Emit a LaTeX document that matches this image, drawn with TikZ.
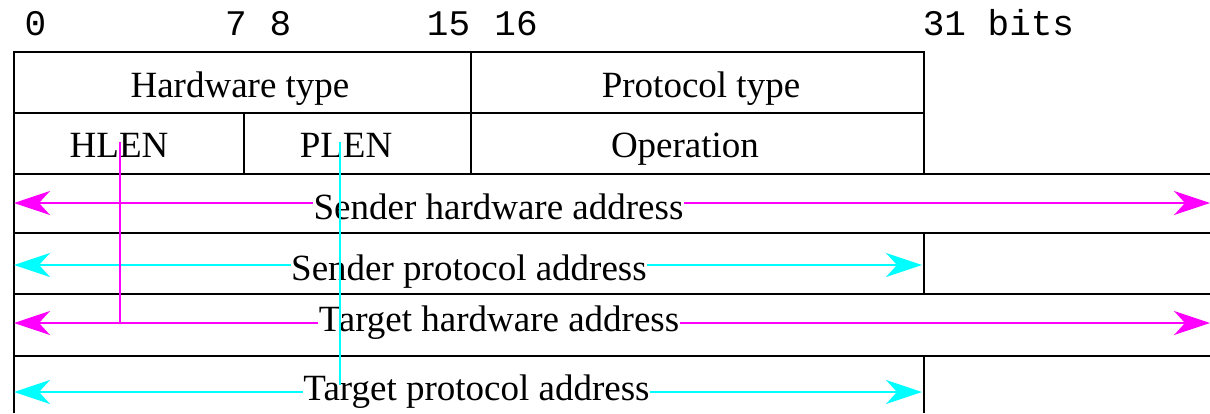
\documentclass[tikz,border=0pt]{standalone}
\usepackage{fontspec}
\setmainfont{Liberation Serif}
\setmonofont{Liberation Mono}
\usetikzlibrary{arrows.meta}
\definecolor{hwcol}{RGB}{255,0,255}
\definecolor{pacol}{RGB}{0,255,255}
\begin{document}
\begin{tikzpicture}[x=0.5pt,y=-0.5pt,
		field/.style={font=\fontsize{18.5}{22}\selectfont,inner sep=0pt,anchor=base},
		bitno/.style={font=\ttfamily\fontsize{18}{22}\selectfont,inner sep=0pt,anchor=base},
		grid/.style={line width=0.8pt},
		hwline/.style={draw=hwcol,line width=0.7pt},
		paline/.style={draw=pacol,line width=0.7pt},
		addrarrow/.style={-{Stealth[length=18pt,width=12pt,inset=5.5pt]}}]
		\useasboundingbox (0,0) rectangle (1210,413);
	
		\node[bitno] (b0) at (35.5,35) {0};
		\node[bitno] (b7) at (236,35) {7};
		\node[bitno] (b8) at (280.5,35) {8};
		\node[bitno] (b15) at (448.5,35) {15};
		\node[bitno] (b16) at (516,35) {16};
		\node[bitno] (b31) at (998.5,35) {31 bits};
		
		\draw[grid] (14,413) -- (14,52) -- (924,52) -- (924,174);
		\draw[grid] (14,113) -- (924,113);
		\draw[grid] (14,174) -- (1210,174);
		\draw[grid] (14,233) -- (1210,233);
		\draw[grid] (14,294) -- (1210,294);
		\draw[grid] (14,356) -- (1210,356);
		\draw[grid] (471,52) -- (471,174);
		\draw[grid] (244,113) -- (244,174);
		\draw[grid] (924,233) -- (924,294);
		\draw[grid] (924,356) -- (924,413);
		
		\node[field] (hwtype) at (240,97.5) {Hardware type};
		\node[field] (prtype) at (701,97.5) {Protocol type};
		\node[field] (hlen) at (119,157) {HLEN};
		\node[field] (plen) at (346,157) {PLEN};
		\node[field] (oper) at (685,157) {Operation};
		
		\node[field] (shw) at (498.5,219) {Sender hardware address};
		\node[field] (spa) at (469,280) {Sender protocol address};
		\node[field] (thw) at (499,331) {Target hardware address};
		\node[field] (tpa) at (476.5,400) {Target protocol address};
		
		\coordinate (shwL) at (14,203);
		\coordinate (shwR) at (1210,203);
		\coordinate (spaL) at (14,265);
		\coordinate (spaR) at (922,265);
		\coordinate (thwL) at (14,323);
		\coordinate (thwR) at (1210,323);
		\coordinate (tpaL) at (14,392);
		\coordinate (tpaR) at (922,392);
		
		\draw[hwline,addrarrow] (shw.west |- shwL) -- (shwL);
		\draw[hwline,addrarrow] (shw.east |- shwR) -- (shwR);
		\draw[paline,addrarrow] (spa.west |- spaL) -- (spaL);
		\draw[paline,addrarrow] (spa.east |- spaR) -- (spaR);
		\draw[hwline,addrarrow] (thw.west |- thwL) -- (thwL);
		\draw[hwline,addrarrow] (thw.east |- thwR) -- (thwR);
		\draw[paline,addrarrow] (tpa.west |- tpaL) -- (tpaL);
		\draw[paline,addrarrow] (tpa.east |- tpaR) -- (tpaR);
		
		\coordinate (hlentap) at (120,142);
		\coordinate (plentap) at (340,142);
		\coordinate (plenend) at (340,385);
		\draw[hwline] (hlentap) -- (hlentap |- thwL);
		\draw[paline] (plentap) -- (plenend);
	\end{tikzpicture}
\end{document}
